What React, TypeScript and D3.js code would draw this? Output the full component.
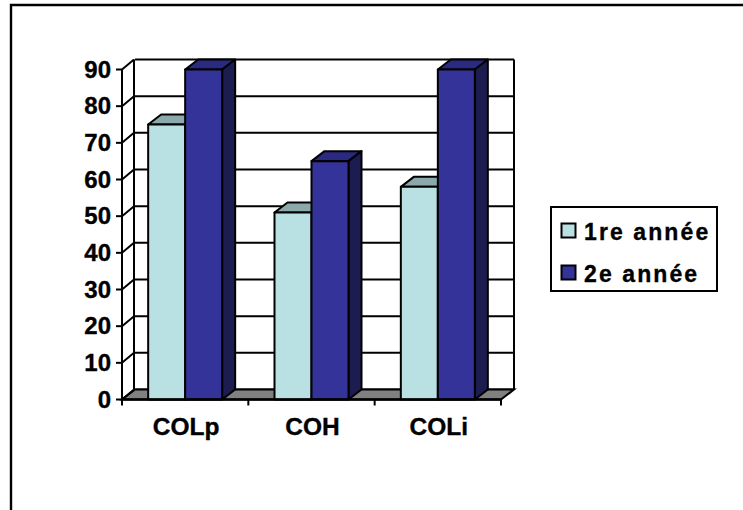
import React from "react";
import * as d3 from "d3";

const categories = ["COLp", "COH", "COLi"];
const seriesNames = ["1re année", "2e année"];
const firstYear = [75, 51, 58];
const secondYear = [90, 65, 90];
const yTicks = [0, 10, 20, 30, 40, 50, 60, 70, 80, 90];

const FRONT = "#b9e0e3";
const FRONT_TOP = "#8ba8aa";
const DARK = "#333399";
const DARK_TOP = "#2a2a80";
const DARK_SIDE = "#1c1c50";
const FONT = "'Liberation Sans', Arial, sans-serif";
const SW = 2;

const dx = 13;
const dy = -10;
const x0 = 122;
const x1 = 501;
const y = d3.scaleLinear().domain([0, 90]).range([399.5, 69.5]);
const band = d3.scaleBand<string>().domain(categories).range([x0, x1]);
const barW = 37;

function Bar({ x, v, fill, top, side }: { x: number; v: number; fill: string; top: string; side: string }) {
  const yt = y(v);
  const yb = y(0);
  const w = barW;
  return (
    <g stroke="#000" strokeWidth={SW} strokeLinejoin="round">
      <polygon points={`${x},${yt} ${x + dx},${yt + dy} ${x + w + dx},${yt + dy} ${x + w},${yt}`} fill={top} />
      <polygon points={`${x + w},${yt} ${x + w + dx},${yt + dy} ${x + w + dx},${yb + dy} ${x + w},${yb}`} fill={side} />
      <rect x={x} y={yt} width={w} height={yb - yt} fill={fill} />
    </g>
  );
}

export default function App() {
  const yb = y(0);
  return (
    <svg width={743} height={510} style={{ position: "absolute", left: 0, top: 0, background: "#fff" }} fontFamily={FONT} fontWeight="bold">
      <path d="M11,510 V5 H743" fill="none" stroke="#000" strokeWidth={2.4} />
      {/* back wall */}
      {yTicks.map((t) => (
        <line key={t} x1={x0 + dx} x2={x1 + dx} y1={y(t) + dy} y2={y(t) + dy} stroke="#000" strokeWidth={SW} />
      ))}
      <line x1={x0 + dx - 1} x2={x0 + dx - 1} y1={y(90) + dy} y2={yb + dy} stroke="#000" strokeWidth={SW} />
      <line x1={x1 + dx} x2={x1 + dx} y1={y(90) + dy} y2={yb + dy} stroke="#000" strokeWidth={SW} />
      {/* floor */}
      <polygon points={`${x0},${yb} ${x0 + dx},${yb + dy} ${x1 + dx},${yb + dy} ${x1},${yb}`} fill="#808080" stroke="#000" strokeWidth={SW} />
      {/* side wall */}
      {yTicks.map((t) => (
        <line key={t} x1={x0} x2={x0 + dx - 1} y1={y(t)} y2={y(t) + dy} stroke="#000" strokeWidth={SW} />
      ))}
      {/* bars */}
      {categories.map((c, i) => {
        const start = (band(c) as number) + band.bandwidth() / 2 - barW;
        return (
          <g key={c}>
            <Bar x={start} v={firstYear[i]} fill={FRONT} top={FRONT_TOP} side="#6f8e90" />
            <Bar x={start + barW} v={secondYear[i]} fill={DARK} top={DARK_TOP} side={DARK_SIDE} />
          </g>
        );
      })}
      {/* axes */}
      <line x1={x0} x2={x0} y1={y(90)} y2={yb} stroke="#000" strokeWidth={SW} />
      <line x1={x0} x2={x1} y1={yb} y2={yb} stroke="#000" strokeWidth={2.4} />
      {yTicks.map((t) => (
        <g key={t}>
          <line x1={x0 - 6} x2={x0} y1={y(t)} y2={y(t)} stroke="#000" strokeWidth={SW} />
          <text x={111} y={y(t) + 8} textAnchor="end" fontSize={24} stroke="#000" strokeWidth={0.35}>{t}</text>
        </g>
      ))}
      {[0, 1, 2, 3].map((i) => {
        const tx = x0 + i * band.step();
        return <line key={i} x1={tx} x2={tx} y1={yb} y2={yb + 6} stroke="#000" strokeWidth={SW} />;
      })}
      {categories.map((c) => (
        <text key={c} x={(band(c) as number) + band.bandwidth() / 2 + 1} y={435} textAnchor="middle" fontSize={24.5} stroke="#000" strokeWidth={0.35}>{c}</text>
      ))}
      {/* legend */}
      <rect x={551} y={207} width={166} height={84} fill="#fff" stroke="#000" strokeWidth={SW} />
      {seriesNames.map((s, i) => (
        <g key={s}>
          <rect x={561.5} y={223.5 + i * 42} width={14} height={14} fill={i === 0 ? FRONT : DARK} stroke="#000" strokeWidth={SW} />
          <text x={584} y={240 + i * 42} fontSize={23} letterSpacing={2.1} stroke="#000" strokeWidth={0.35}>{s}</text>
        </g>
      ))}
    </svg>
  );
}
